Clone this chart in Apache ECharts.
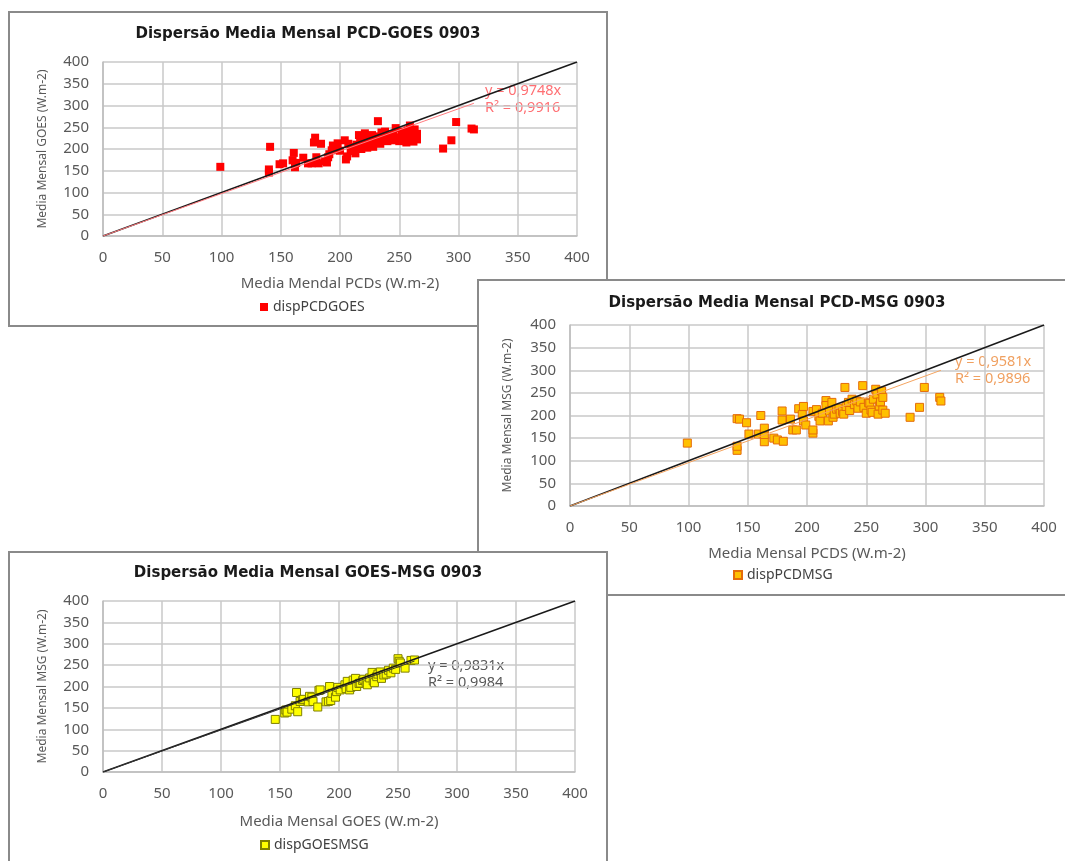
<!DOCTYPE html>
<html lang="pt">
<head>
<meta charset="UTF-8">
<title>Dispersão Media Mensal 0903</title>
<script src="https://cdn.jsdelivr.net/npm/echarts@6.0.0/dist/echarts.min.js"></script>
<style>
    body {margin: 0; width: 1065px; height: 861px; overflow: hidden; background: #fff; position: relative;}
    .painel {position: absolute; box-sizing: border-box; width: 600px; border: 2px solid #8a8a8a; background: #fff;}
</style>
</head>
<body>
<div id="pcdGoesChart" class="painel" style="left:8px;top:11px;height:316px;z-index:1;"></div>
<div id="pcdMsgChart" class="painel" style="left:477px;top:279px;height:317px;z-index:2;"></div>
<div id="goesMsgChart" class="painel" style="left:8px;top:551px;height:320px;z-index:3;"></div>
<script type="text/javascript">
    // eixos (W.m-2)
    var axisMin = 0;
    var axisMax = 400;
    var axisStep = 50;

    // PCD x GOES
    var pcdGoesX = [99, 140, 140, 141, 149, 152, 160, 161, 162, 163, 169, 173, 176, 178, 179, 180, 182, 184, 187, 189,
        190, 191, 193, 194, 196, 198, 200, 204, 205, 206, 207, 209, 210, 212, 213, 214, 216, 217, 218, 219,
        220, 221, 222, 223, 224, 225, 226, 227, 228, 230, 231, 232, 233, 234, 235, 236, 237, 238, 240, 241,
        243, 245, 246, 247, 248, 250, 252, 253, 255, 256, 257, 258, 259, 260, 261, 262, 263, 264, 265, 265,
        287, 294, 298, 311, 313];
    var pcdGoesY = [159, 146, 153, 205, 165, 167, 174, 191, 158, 168, 180, 167, 167, 215, 226, 181, 167, 212, 172, 169,
        181, 188, 197, 208, 199, 213, 196, 220, 176, 183, 212, 200, 195, 205, 190, 210, 232, 217, 200, 225,
        208, 236, 214, 203, 228, 219, 210, 232, 205, 222, 215, 264, 229, 212, 238, 220, 225, 240, 218, 230,
        225, 234, 220, 248, 227, 218, 240, 225, 230, 215, 243, 233, 254, 222, 238, 217, 245, 228, 235, 222,
        201, 220, 262, 247, 245];
    var pcdGoesSlope = 0.9748;
    var pcdGoesR2 = '0,9916';

    // PCD x MSG
    var pcdMsgX = [99, 141, 141, 141, 143, 149, 151, 159, 161, 164, 164, 164, 172, 175, 179, 179, 180, 186, 188, 191,
        193, 196, 197, 197, 199, 205, 205, 205, 208, 210, 211, 213, 216, 216, 218, 219, 221, 222, 223, 225,
        227, 228, 230, 231, 232, 233, 235, 236, 238, 240, 242, 243, 245, 247, 248, 250, 252, 253, 254, 255,
        256, 258, 259, 260, 261, 262, 263, 264, 264, 266, 287, 295, 299, 312, 313];
    var pcdMsgY = [139, 123, 132, 193, 192, 184, 159, 159, 200, 142, 158, 172, 150, 146, 210, 190, 143, 192, 168, 168,
        215, 202, 220, 188, 179, 161, 168, 209, 213, 198, 188, 205, 233, 222, 188, 210, 229, 196, 203, 214,
        216, 205, 209, 203, 262, 220, 229, 211, 236, 224, 232, 216, 230, 266, 218, 205, 228, 227, 212, 207,
        236, 258, 247, 203, 221, 230, 254, 240, 212, 205, 196, 218, 262, 240, 232];
    var pcdMsgSlope = 0.9581;
    var pcdMsgR2 = '0,9896';

    // GOES x MSG
    var goesMsgX = [146, 154, 155, 156, 160, 163, 164, 165, 167, 169, 170, 174, 175, 177, 178, 182, 183, 184, 189, 191,
        192, 193, 194, 197, 198, 199, 201, 205, 206, 207, 209, 210, 212, 214, 215, 217, 218, 220, 221, 223,
        224, 226, 228, 229, 230, 232, 233, 235, 236, 238, 240, 242, 244, 246, 248, 250, 251, 252, 256, 261, 264];
    var goesMsgY = [123, 138, 145, 140, 147, 155, 186, 141, 165, 169, 170, 164, 177, 175, 165, 152, 191, 192, 164, 165,
        200, 167, 184, 175, 188, 198, 192, 204, 195, 212, 192, 198, 215, 219, 200, 207, 208, 214, 217, 210,
        204, 220, 233, 213, 209, 223, 229, 234, 219, 227, 229, 238, 232, 243, 240, 265, 259, 255, 243, 261, 262];
    var goesMsgSlope = 0.9831;
    var goesMsgR2 = '0,9984';

    var fonte = '"Noto Sans", "DejaVu Sans", sans-serif';

    function eixo(nome, gap, tamanho) {
        return {
            type: 'value', min: axisMin, max: axisMax, interval: axisStep,
            name: nome, nameLocation: 'middle', nameGap: gap,
            nameTextStyle: {color: '#595959', fontSize: tamanho, fontFamily: fonte},
            axisLine: {show: true, lineStyle: {color: '#bdbdbd', width: 1.5}},
            axisTick: {show: false},
            axisLabel: {color: '#595959', fontSize: 15, fontFamily: fonte, margin: 14},
            splitLine: {show: true, lineStyle: {color: '#c9c9c9', width: 1.5}}
        };
    }

    function dispersao(domId, c) {
        var chart = echarts.init(document.getElementById(domId));
        var pontos = [];
        for (var i = 0; i < c.x.length; i++) {
            pontos.push([c.x[i], c.y[i]]);
        }
        var xFim = Math.max.apply(null, c.x);
        var option = {
            animation: false,
            title: {
                text: c.titulo, left: 'center', top: c.tituloTop,
                textStyle: {fontSize: 15, fontWeight: 'bold', color: '#1a1a1a', fontFamily: '"DejaVu Sans", sans-serif'}
            },
            grid: {left: c.grid[0], top: c.grid[1], width: c.grid[2], height: c.grid[3]},
            xAxis: eixo(c.nomeX, c.gapX, 15),
            yAxis: eixo(c.nomeY, c.gapY, 12),
            legend: {
                data: [c.serie], left: c.legenda[0], top: c.legenda[1], padding: 0,
                itemWidth: 8, itemHeight: 8, icon: 'rect',
                textStyle: {fontSize: 14, color: '#404040', fontFamily: fonte}
            },
            graphic: [{
                type: 'text', left: c.rotulo[0], top: c.rotulo[1],
                style: {
                    text: 'y = ' + String(c.slope).replace('.', ',') + 'x\nR² = ' + c.r2,
                    fill: c.corRotulo, font: '14.5px ' + fonte, lineHeight: 17
                }
            }],
            series: [{
                name: c.serie, type: 'scatter', data: pontos, symbol: 'rect', symbolSize: c.tamanho,
                itemStyle: {color: c.cor, borderColor: c.borda, borderWidth: c.borda ? 1 : 0, opacity: 1}, z: 2
            }, {
                name: 'linha', type: 'line', data: [[axisMin, axisMin], [axisMax, axisMax]], symbol: 'none',
                lineStyle: {color: '#1a1a1a', width: 1.5}, z: 3, silent: true
            }, {
                name: 'tendencia', type: 'line', data: [[0, 0], [xFim, c.slope * xFim]], symbol: 'none',
                lineStyle: {color: c.corTend, width: 1}, z: 4, silent: true
            }]
        };
        chart.setOption(option);
    }

    dispersao('pcdGoesChart', {
        titulo: 'Dispersão Media Mensal PCD-GOES 0903', tituloTop: 9,
        x: pcdGoesX, y: pcdGoesY, slope: pcdGoesSlope, r2: pcdGoesR2,
        nomeX: 'Media Mendal PCDs (W.m-2)', nomeY: 'Media Mensal GOES (W.m-2)',
        grid: [93, 49, 474, 174], gapX: 40, gapY: 54,
        serie: 'dispPCDGOES', legenda: [250, 287], rotulo: [475, 69],
        cor: '#ff0000', borda: null, tamanho: 8, corTend: '#ff7c80', corRotulo: '#ff6f73'
    });

    dispersao('pcdMsgChart', {
        titulo: 'Dispersão Media Mensal PCD-MSG 0903', tituloTop: 10,
        x: pcdMsgX, y: pcdMsgY, slope: pcdMsgSlope, r2: pcdMsgR2,
        nomeX: 'Media Mensal PCDS (W.m-2)', nomeY: 'Media Mensal MSG (W.m-2)',
        grid: [91, 44, 474, 181], gapX: 40, gapY: 56,
        serie: 'dispPCDMSG', legenda: [254, 287], rotulo: [476, 72],
        cor: '#ffc000', borda: '#e46c0a', tamanho: 8, corTend: '#f4a460', corRotulo: '#f0a060'
    });

    dispersao('goesMsgChart', {
        titulo: 'Dispersão Media Mensal GOES-MSG 0903', tituloTop: 8,
        x: goesMsgX, y: goesMsgY, slope: goesMsgSlope, r2: goesMsgR2,
        nomeX: 'Media Mensal GOES (W.m-2)', nomeY: 'Media Mensal MSG (W.m-2)',
        grid: [93, 48, 472, 171], gapX: 42, gapY: 54,
        serie: 'dispGOESMSG', legenda: [250, 285], rotulo: [418, 104],
        cor: '#ffff00', borda: '#7f7f00', tamanho: 8, corTend: '#333333', corRotulo: '#595959'
    });
</script>
</body>
</html>
